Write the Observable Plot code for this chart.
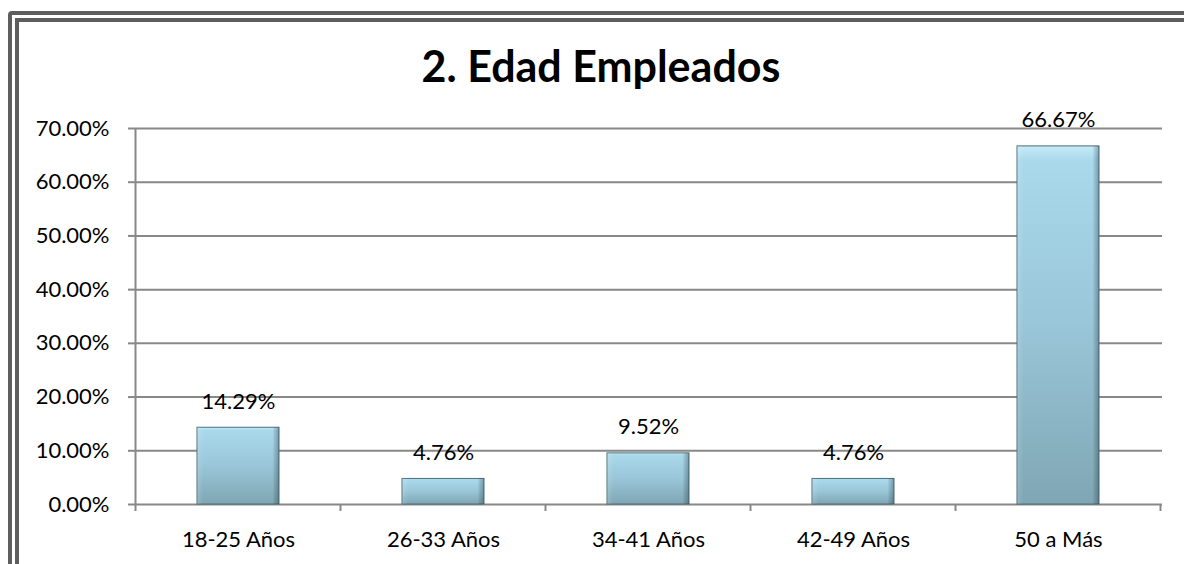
<!DOCTYPE html>
<html><head><meta charset="utf-8">
<script src="https://cdn.jsdelivr.net/npm/d3@7"></script>
<script src="https://cdn.jsdelivr.net/npm/@observablehq/plot@0.6"></script>
<style>
html,body{margin:0;padding:0;background:#fff;overflow:hidden;}
#wrap{position:relative;width:1184px;height:564px;overflow:hidden;font-family:Lato,sans-serif;}
#frame{position:absolute;left:8px;top:11px;width:1200px;height:620px;border:11px double #5e5e5e;border-radius:4px;box-sizing:border-box;}
#title{position:absolute;left:0;width:1202px;top:44px;line-height:43px;text-align:center;font-weight:700;font-size:43px;color:#000;}
#chart{position:absolute;left:0;top:0;}
</style>
</head><body>
<div id="wrap">
  <div id="frame"></div>
  <div id="chart"></div>
  <div id="title">2. Edad Empleados</div>
</div>
<script>
const categories = ["18-25 Años", "26-33 Años", "34-41 Años", "42-49 Años", "50 a Más"];
const values = [14.29, 4.76, 9.52, 4.76, 66.67];
const yTicks = [0, 10, 20, 30, 40, 50, 60, 70];

const data = categories.map((c, i) => ({cat: c, value: values[i]}));
const pct = d => d.toFixed(2) + "%";

const axisLines = (index, scales) => {
  const sx = scales.x, sy = scales.y;
  const step = sx(categories[1]) - sx(categories[0]);
  const bw = typeof sx.bandwidth === "function" ? sx.bandwidth() : (sx.bandwidth ?? step * 0.4);
  const x0 = sx(categories[0]) - (step - bw) / 2;
  const yTop = sy(d3.max(yTicks)), yBase = sy(0);
  const g = d3.create("svg:g").attr("stroke", "#888888").attr("stroke-width", 2).attr("fill", "none");
  g.append("line").attr("x1", x0).attr("x2", x0).attr("y1", yTop).attr("y2", yBase + 7);
  for (let i = 1; i <= categories.length; i++) {
    const xb = x0 + i * step;
    g.append("line").attr("x1", xb).attr("x2", xb).attr("y1", yBase).attr("y2", yBase + 7);
  }
  return g.node();
};

const chart = Plot.plot({
  width: 1184,
  height: 564,
  marginLeft: 135,
  marginRight: 22,
  marginTop: 128,
  marginBottom: 60,
  style: {fontFamily: "Lato, sans-serif", fontSize: "22px", color: "#000", background: "transparent", overflow: "visible"},
  x: {domain: categories, paddingInner: 0.6, paddingOuter: 0.3, label: null},
  y: {domain: [0, 70], label: null},
  marks: [
    Plot.gridY(yTicks, {stroke: "#888888", strokeOpacity: 1, strokeWidth: 2}),
    Plot.axisY(yTicks, {tickSize: 7, tickPadding: 19, tickFormat: pct, stroke: "#888888", strokeWidth: 2, fill: "#000", fontSize: 22, label: null}),
    Plot.axisX({tickSize: 0, tickPadding: 27, fill: "#000", fontSize: 22, label: null}),
    axisLines,
    Plot.barY(data, {x: "cat", y: "value", fill: "url(#barGrad)", stroke: "#4a6d7a", strokeWidth: 1}),
    Plot.barY(data, {x: "cat", y: "value", fill: "url(#barSide)"}),
    Plot.text(data, {x: "cat", y: "value", text: d => pct(d.value), lineAnchor: "bottom", dy: -19, fontSize: 22, fill: "#000"})
  ]
});

chart.insertAdjacentHTML("afterbegin", `<defs>
  <linearGradient id="barGrad" x1="0" y1="0" x2="0" y2="1">
    <stop offset="0" stop-color="#c6ebf7"/>
    <stop offset="0.04" stop-color="#aad9ec"/>
    <stop offset="0.5" stop-color="#99c6d8"/>
    <stop offset="1" stop-color="#7fa6b4"/>
  </linearGradient>
  <linearGradient id="barSide" x1="0" y1="0" x2="1" y2="0">
    <stop offset="0" stop-color="#ffffff" stop-opacity="0.15"/>
    <stop offset="0.08" stop-color="#ffffff" stop-opacity="0"/>
    <stop offset="0.92" stop-color="#000000" stop-opacity="0"/>
    <stop offset="1" stop-color="#1b3540" stop-opacity="0.35"/>
  </linearGradient>
</defs>`);

document.getElementById("chart").appendChild(chart);
</script>
</body></html>
